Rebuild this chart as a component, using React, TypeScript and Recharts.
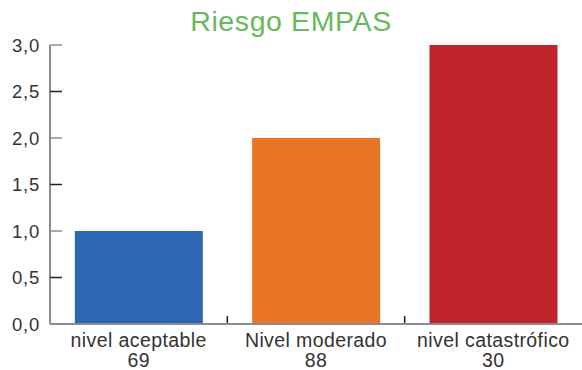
import React from 'react';
import { BarChart, Bar, XAxis, YAxis, Cell } from 'recharts';

const categories = ['nivel aceptable', 'Nivel moderado', 'nivel catastrófico'];
const counts = ['69', '88', '30'];
const values = [1, 2, 3];
const colors = ['#2d67b2', '#e87425', '#c0232a'];
const yTicks = [0, 0.5, 1, 1.5, 2, 2.5, 3];
const title = 'Riesgo EMPAS';

const data = categories.map((name, i) => ({ name, count: counts[i], value: values[i], idx: i }));

const FONT = '"Liberation Sans", Arial, Helvetica, sans-serif';

const XTick = (props: any) => {
  const { x, y, payload, index } = props;
  const half = payload && payload.offset ? payload.offset : 0;
  return (
    <g>
      {index > 0 && half > 0 ? (
        <line x1={x - half} x2={x - half} y1={y - 1} y2={y - 8} stroke="#222" strokeWidth={1.5} />
      ) : null}
      <text x={x} y={y} textAnchor="middle" fontFamily={FONT} fontSize={19.5} fill="#333" letterSpacing={0.4}>
        <tspan x={x} dy={23}>{payload.value}</tspan>
        <tspan x={x} dy={20}>{counts[index]}</tspan>
      </text>
    </g>
  );
};

const YTick = (props: any) => {
  const { x, y, payload, index } = props;
  const major = index % 2 === 0;
  return (
    <g>
      <line x1={x + 10} x2={x + 22} y1={y} y2={y} stroke={major ? '#8c8c8c' : '#222'} strokeWidth={1.5} />
      <text x={x} y={y} dy={6.5} textAnchor="end" fontFamily={FONT} fontSize={18.5} fill="#333" letterSpacing={0.8}>
        {payload.value.toFixed(1).replace('.', ',')}
      </text>
    </g>
  );
};

export default function App() {
  return (
    <div>
      <style>{'body{margin:0}'}</style>
      <BarChart width={582} height={370} data={data} margin={{ top: 45, right: 0, left: 0, bottom: 0 }} barCategoryGap="14%">
        <text x={291} y={31} textAnchor="middle" fontFamily={FONT} fontSize={28.5} fill="#66b95a" letterSpacing={0.6}>
          {title}
        </text>
        <XAxis
          dataKey="name"
          height={46}
          interval={0}
          tick={<XTick />}
          tickLine={false}
          tickSize={0}
          tickMargin={0}
          axisLine={{ stroke: '#8c8c8c', strokeWidth: 2 }}
        />
        <YAxis
          width={50}
          domain={[0, 3]}
          ticks={yTicks}
          interval={0}
          tick={<YTick />}
          tickLine={false}
          tickSize={0}
          tickMargin={10}
          axisLine={{ stroke: '#8c8c8c', strokeWidth: 2 }}
        />
        <Bar dataKey="value" isAnimationActive={false}>
          {data.map((d) => (
            <Cell key={d.name} fill={colors[d.idx]} />
          ))}
        </Bar>
      </BarChart>
    </div>
  );
}
